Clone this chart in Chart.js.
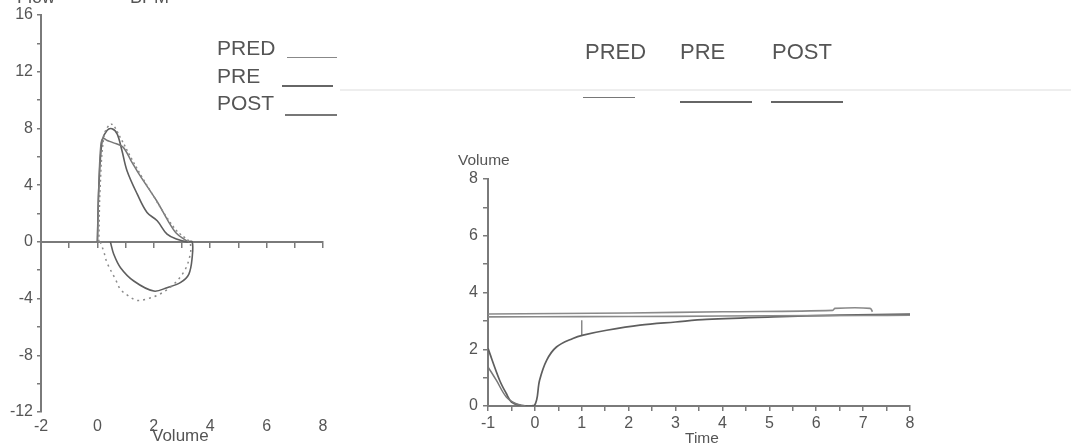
<!DOCTYPE html>
<html>
<head>
<meta charset="utf-8">
<script src="https://cdn.jsdelivr.net/npm/chart.js@4.4.1/dist/chart.umd.min.js"></script>
<style>
  body { margin: 0; background: #fff; }
  #wrap { position: relative; width: 1071px; height: 444px; overflow: hidden;
          font-family: "Liberation Sans", Arial, sans-serif; color: #555; }
  canvas { position: absolute; left: 0; top: 0; }
  .t { position: absolute; line-height: 1; white-space: nowrap; }
  .ln { position: absolute; height: 0; }
</style>
</head>
<body>
<div id="wrap">
  <canvas id="loop" width="1071" height="444"></canvas>
  <canvas id="vt" width="1071" height="444"></canvas>

  <div class="t" style="left:17px;top:-12px;font-size:18px">Flow</div>
  <div class="t" style="left:130px;top:-12px;font-size:18px">BPM</div>

  <!-- faint scan streak -->
  <div class="ln" style="left:340px;top:89px;width:731px;border-top:2px solid #eeeeee"></div>

  <div class="t" style="left:217px;top:37px;font-size:21px">PRED</div>
  <div class="t" style="left:217px;top:65px;font-size:21px">PRE</div>
  <div class="t" style="left:217px;top:92px;font-size:21px">POST</div>
  <div class="ln" style="left:287px;top:57px;width:50px;border-top:1.5px solid #888"></div>
  <div class="ln" style="left:282px;top:85px;width:51px;border-top:2px solid #666"></div>
  <div class="ln" style="left:285px;top:114px;width:52px;border-top:2px solid #777"></div>

  <div class="t" style="left:585px;top:41px;font-size:22px">PRED</div>
  <div class="t" style="left:680px;top:41px;font-size:22px">PRE</div>
  <div class="t" style="left:772px;top:41px;font-size:22px">POST</div>
  <div class="ln" style="left:583px;top:97px;width:52px;border-top:1.5px solid #777"></div>
  <div class="ln" style="left:680px;top:101px;width:72px;border-top:2px solid #666"></div>
  <div class="ln" style="left:771px;top:101px;width:72px;border-top:2px solid #666"></div>

  <div class="t" style="left:458px;top:152px;font-size:15.5px">Volume</div>
  <div class="t" style="left:152px;top:427px;font-size:17px">Volume</div>
  <div class="t" style="left:685px;top:430px;font-size:15.5px">Time</div>
</div>

<script>
// flow-volume loop, volume (x) and flow (y)
const predVol  = [0.05, 0.1, 0.25, 0.5, 0.8, 1.2, 1.6, 2.0, 2.4, 2.8, 3.1, 3.3];
const predFlow = [0, 4.0, 7.6, 8.3, 7.4, 5.9, 4.5, 3.2, 1.9, 0.8, 0.3, 0];
const predInVol  = [0.1, 0.22, 0.34, 0.64, 0.82, 1.11, 1.41, 1.7, 2.2, 2.7, 3.1, 3.3, 3.3];
const predInFlow = [0, -0.64, -1.46, -2.64, -3.35, -3.82, -4.13, -4.06, -3.7, -3.0, -2.0, -0.8, 0];

const preVol  = [0, 0.05, 0.17, 0.34, 0.52, 0.70, 0.87, 1.05, 1.41, 1.76, 2.12, 2.47, 2.83, 3.18, 3.36,
                 3.36, 3.24, 2.94, 2.47, 2.0, 1.29, 0.82, 0.58, 0.46];
const preFlow = [0, 3.8, 7.15, 7.86, 7.98, 7.62, 6.44, 5.02, 3.38, 2.07, 1.49, 0.54, 0.19, 0, 0,
                 -1.11, -2.29, -2.88, -3.23, -3.47, -2.76, -1.82, -0.87, 0];

const postVol  = [0, 0.05, 0.12, 0.2, 0.35, 0.55, 0.9, 1.2, 1.5, 2.1, 2.5, 2.8, 3.1, 3.25];
const postFlow = [0, 4.0, 6.8, 7.3, 7.15, 7.0, 6.7, 5.7, 4.7, 2.9, 1.5, 0.6, 0.15, 0];

const loopVolTicks = [-2, 0, 2, 4, 6, 8];

// volume-time curves
const mainTime = [-1, -0.75, -0.61, -0.5, -0.3, -0.01, 0.1, 0.25, 0.46, 0.81, 1.03, 1.53, 2.24, 3.0, 3.66, 5.08, 6.51, 8];
const mainVol  = [2.03, 0.9, 0.44, 0.14, 0.02, 0.02, 0.91, 1.61, 2.08, 2.38, 2.5, 2.67, 2.85, 2.96, 3.05, 3.14, 3.2, 3.24];
const lowTime = [-1, -0.82, -0.61, -0.4, -0.2];
const lowVol  = [1.38, 0.9, 0.32, 0.08, 0];
const flatTime = [-1, 1, 3, 5, 7, 8];
const flatVol  = [3.14, 3.15, 3.16, 3.18, 3.19, 3.2];
const highTime = [-1, 2, 4, 6.35, 6.4, 7.15, 7.2];
const highVol  = [3.24, 3.28, 3.32, 3.37, 3.44, 3.44, 3.32];
const fev1Time = [1.0, 1.0];
const fev1Vol  = [2.47, 3.02];

const axisColor = '#7a7a7a';
const textColor = '#555';
const tickFont = { family: '"Liberation Sans", Arial, sans-serif', size: 16 };

const xy = (xs, ys) => xs.map((x, i) => ({ x, y: ys[i] }));

function curve(xs, ys, color, width, dash) {
  return {
    data: xy(xs, ys),
    borderColor: color,
    borderWidth: width,
    borderDash: dash || [],
    pointRadius: 0,
    tension: 0.35,
    fill: false
  };
}

new Chart(document.getElementById('loop'), {
  type: 'line',
  data: {
    datasets: [
      curve(predVol, predFlow, '#8a8a8a', 1.5, [2, 3]),
      curve(predInVol, predInFlow, '#8a8a8a', 1.5, [2, 4]),
      curve(postVol, postFlow, '#777', 1.5),
      curve(preVol, preFlow, '#5e5e5e', 1.6)
    ]
  },
  options: {
    responsive: false,
    animation: false,
    events: [],
    layout: { padding: { left: 0, top: 15, right: 748, bottom: 0 } },
    plugins: { legend: { display: false }, tooltip: { enabled: false } },
    scales: {
      x: {
        type: 'linear', min: -2, max: 8, position: { y: 0 },
        ticks: { display: false, stepSize: 1, autoSkip: false },
        grid: { drawOnChartArea: false, tickLength: 5, color: axisColor, lineWidth: 1.5 },
        border: { color: axisColor, width: 2 },
        afterFit: s => { s.height = 0; }
      },
      xb: {
        type: 'linear', min: -2, max: 8, position: 'bottom',
        afterBuildTicks: s => { s.ticks = loopVolTicks.map(v => ({ value: v })); },
        ticks: { padding: 5, color: textColor, font: tickFont, autoSkip: false, maxRotation: 0 },
        grid: { display: false, drawTicks: false },
        border: { display: false },
        afterFit: s => { s.height = 32; }
      },
      y: {
        type: 'linear', min: -12, max: 16, position: 'left',
        ticks: {
          stepSize: 2, padding: 4, color: textColor, font: tickFont, autoSkip: false,
          callback: v => (v % 4 === 0 ? v : '')
        },
        grid: { drawOnChartArea: false, tickLength: 4, color: axisColor, lineWidth: 1.5 },
        border: { color: axisColor, width: 2 },
        afterFit: s => { s.width = 41; }
      }
    }
  }
});

new Chart(document.getElementById('vt'), {
  type: 'line',
  data: {
    datasets: [
      curve(flatTime, flatVol, '#8a8a8a', 1.6),
      curve(highTime, highVol, '#8a8a8a', 1.6),
      curve(lowTime, lowVol, '#777', 1.5),
      curve(mainTime, mainVol, '#5e5e5e', 1.7),
      Object.assign(curve(fev1Time, fev1Vol, '#777', 1.3), { tension: 0 })
    ]
  },
  options: {
    responsive: false,
    animation: false,
    events: [],
    layout: { padding: { left: 440, top: 179, right: 161, bottom: 0 } },
    plugins: { legend: { display: false }, tooltip: { enabled: false } },
    scales: {
      x: {
        type: 'linear', min: -1, max: 8, position: 'bottom',
        ticks: {
          stepSize: 0.5, padding: 3, color: textColor, font: tickFont, autoSkip: false, maxRotation: 0,
          callback: v => (Number.isInteger(v) ? v : '')
        },
        grid: { drawOnChartArea: false, tickLength: 5, color: axisColor, lineWidth: 1.5 },
        border: { color: axisColor, width: 2 },
        afterFit: s => { s.height = 38; }
      },
      y: {
        type: 'linear', min: 0, max: 8, position: 'left',
        ticks: {
          stepSize: 1, padding: 5, color: textColor, font: tickFont, autoSkip: false,
          callback: v => (v % 2 === 0 ? v : '')
        },
        grid: { drawOnChartArea: false, tickLength: 5, color: axisColor, lineWidth: 1.5 },
        border: { color: axisColor, width: 2 },
        afterFit: s => { s.width = 48; }
      }
    }
  }
});
</script>
</body>
</html>
